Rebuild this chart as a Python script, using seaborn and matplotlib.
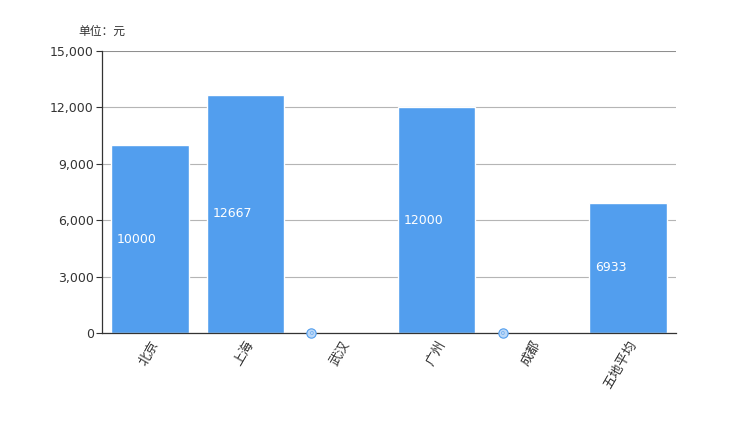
import pandas as pd
import matplotlib
matplotlib.use("Agg")
import matplotlib.pyplot as plt
import seaborn as sns

cities = ["北京", "上海", "武汉", "广州", "成都", "五地平均"]
salaries = [10000, 12667, 0, 12000, 0, 6933]
yticks = [0, 3000, 6000, 9000, 12000, 15000]

sns.set_style("white")
plt.rcParams['font.family'] = ['DejaVu Sans', 'Noto Sans CJK SC']

df = pd.DataFrame({"city": cities, "salary": salaries})

fig = plt.figure(figsize=(7.5, 4.43), dpi=100)
ax = fig.add_axes([0.136, 0.248, 0.765, 0.637])

sns.barplot(data=df, x="city", y="salary", color="#529EEE", saturation=1,
            width=0.81, ax=ax, zorder=2)

ax.set_ylim(0, 15000)
ax.set_xlim(-0.5, len(cities) - 0.5)
ax.set_yticks(yticks)
ax.set_yticklabels([f"{v:,}" for v in yticks], fontsize=9, color="#333333")
ax.grid(axis="y", color="#b5b5b5", linewidth=0.8, zorder=0)
ax.axhline(15000, color="#888888", linewidth=1.2, zorder=1)

for s in ["top", "right"]:
    ax.spines[s].set_visible(False)
ax.spines["left"].set_color("#333333")
ax.spines["bottom"].set_color("#333333")
ax.spines["left"].set_linewidth(0.9)
ax.spines["bottom"].set_linewidth(0.9)
ax.tick_params(axis="y", length=4, width=0.8, color="#333333", pad=2, left=True)
ax.tick_params(axis="x", length=0, pad=4)
ax.set_xlabel("")
ax.set_ylabel("")
ax.set_xticks(range(len(cities)))
ax.set_xticklabels(cities, rotation=60, ha="right", va="top",
                   rotation_mode="anchor", fontsize=9.5, color="#333333")

# value labels
for i, v in enumerate(salaries):
    if v > 0:
        ax.text(i - 0.345, v / 2, str(v), color="white", fontsize=9,
                ha="left", va="center", zorder=3)
    else:
        ax.scatter([i - 0.31], [0], s=45, color="#bcd8f7", edgecolor="#529EEE",
                   linewidth=0.8, zorder=4, clip_on=False)
        ax.text(i - 0.31, 0, "0", color="#529EEE", fontsize=4.5, ha="center",
                va="center", zorder=5)

fig.text(78 / 750, 1 - 31 / 443, "单位：元", fontsize=8.5, color="#333333",
         ha="left", va="center")

fig.savefig("out.png", dpi=100)
